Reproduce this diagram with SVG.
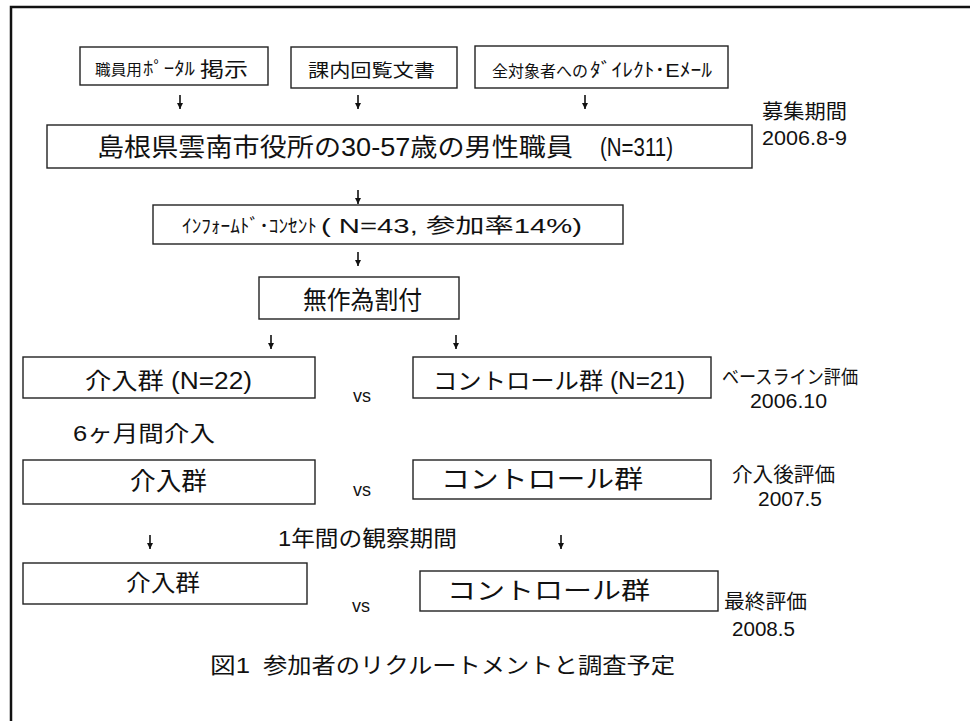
<svg xmlns="http://www.w3.org/2000/svg" width="970" height="721" viewBox="0 0 970 721">
<defs>
<marker id="ah" viewBox="0 0 6 6" refX="6" refY="3" markerWidth="6" markerHeight="6" markerUnits="userSpaceOnUse" orient="auto">
<path d="M0,0 L6,3 L0,6 Z" fill="#111"/>
</marker>
<style>
text{font-family:"Liberation Sans","Noto Sans CJK JP",sans-serif;fill:#111}
.box{fill:#fff;stroke:#222;stroke-width:1.4}
.arr{stroke:#111;stroke-width:1.6;fill:none;marker-end:url(#ah)}
.frame{stroke:#111;stroke-width:2.5;fill:none}
</style>
</defs>
<rect width="970" height="721" fill="#fff"/>
<path class="frame" d="M11,721 L11,7 L970,7"/>

<g id="connectors">
<line class="arr" x1="180" y1="95" x2="180" y2="109"/>
<line class="arr" x1="358" y1="95" x2="358" y2="109"/>
<line class="arr" x1="585" y1="95" x2="585" y2="109"/>
<line class="arr" x1="358" y1="190" x2="358" y2="204"/>
<line class="arr" x1="358" y1="252" x2="358" y2="266"/>
<line class="arr" x1="271" y1="335" x2="271" y2="349"/>
<line class="arr" x1="456" y1="335" x2="456" y2="349"/>
<line class="arr" x1="150" y1="535" x2="150" y2="549"/>
<line class="arr" x1="561" y1="535" x2="561" y2="549"/>
</g>

<g id="portal">
<rect class="box" x="80" y="47" width="188" height="38"/>
<text x="95" y="75" font-size="15" textLength="47" lengthAdjust="spacingAndGlyphs">職員用</text>
<text x="143" y="75" font-size="18" textLength="52" lengthAdjust="spacingAndGlyphs">ﾎﾟｰﾀﾙ</text>
<text x="200" y="77" font-size="20" textLength="48" lengthAdjust="spacingAndGlyphs">掲示</text>
</g>
<g id="circular">
<rect class="box" x="291" y="47" width="166" height="41"/>
<text x="308" y="77" font-size="18" textLength="127" lengthAdjust="spacingAndGlyphs">課内回覧文書</text>
</g>
<g id="email">
<rect class="box" x="475" y="46" width="253" height="42"/>
<text x="492" y="77" font-size="16" textLength="96" lengthAdjust="spacingAndGlyphs">全対象者への</text>
<text x="590" y="77" font-size="19" textLength="122" lengthAdjust="spacingAndGlyphs">ﾀﾞｲﾚｸﾄ･Eﾒｰﾙ</text>
</g>

<g id="population">
<rect class="box" x="47" y="125" width="705" height="43"/>
<text x="97" y="156" font-size="25" textLength="476" lengthAdjust="spacingAndGlyphs">島根県雲南市役所の30-57歳の男性職員</text>
<text x="600" y="156" font-size="25" textLength="73" lengthAdjust="spacingAndGlyphs">(N=311)</text>
</g>
<g id="recruit-period">
<text x="762" y="119" font-size="20" textLength="85" lengthAdjust="spacingAndGlyphs">募集期間</text>
<text x="762" y="145" font-size="21" textLength="85" lengthAdjust="spacingAndGlyphs">2006.8-9</text>
</g>

<g id="consent">
<rect class="box" x="153" y="205" width="470" height="39"/>
<text x="182" y="233" font-size="19" textLength="135" lengthAdjust="spacingAndGlyphs">ｲﾝﾌｫｰﾑﾄﾞ･ｺﾝｾﾝﾄ</text>
<text x="321" y="233" font-size="20" textLength="261" lengthAdjust="spacingAndGlyphs">( N=43, 参加率14%)</text>
</g>

<g id="randomization">
<rect class="box" x="259" y="277" width="200" height="42"/>
<text x="303" y="309" font-size="25" textLength="119" lengthAdjust="spacingAndGlyphs">無作為割付</text>
</g>

<g id="intervention-baseline">
<rect class="box" x="23" y="357" width="292" height="41"/>
<text x="85" y="389" font-size="23" textLength="167" lengthAdjust="spacingAndGlyphs">介入群 (N=22)</text>
</g>
<text x="353" y="402" font-size="18">vs</text>
<g id="control-baseline">
<rect class="box" x="413" y="357" width="298" height="41"/>
<text x="433" y="389" font-size="23" textLength="252" lengthAdjust="spacingAndGlyphs">コントロール群 (N=21)</text>
</g>
<g id="baseline-eval">
<text x="722" y="384" font-size="19" textLength="136" lengthAdjust="spacingAndGlyphs">ベースライン評価</text>
<text x="750" y="408" font-size="20" textLength="77" lengthAdjust="spacingAndGlyphs">2006.10</text>
</g>

<text x="73" y="441" font-size="22" textLength="142" lengthAdjust="spacingAndGlyphs">6ヶ月間介入</text>

<g id="intervention-post">
<rect class="box" x="23" y="460" width="292" height="44"/>
<text x="130" y="490" font-size="25" textLength="77" lengthAdjust="spacingAndGlyphs">介入群</text>
</g>
<text x="353" y="496" font-size="18">vs</text>
<g id="control-post">
<rect class="box" x="413" y="460" width="298" height="39"/>
<text x="441" y="488" font-size="25" textLength="202" lengthAdjust="spacingAndGlyphs">コントロール群</text>
</g>
<g id="post-eval">
<text x="732" y="482" font-size="20" textLength="103" lengthAdjust="spacingAndGlyphs">介入後評価</text>
<text x="758" y="506" font-size="20" textLength="64" lengthAdjust="spacingAndGlyphs">2007.5</text>
</g>

<text x="278" y="546" font-size="22" textLength="179" lengthAdjust="spacingAndGlyphs">1年間の観察期間</text>

<g id="intervention-final">
<rect class="box" x="23" y="563" width="284" height="41"/>
<text x="126" y="591" font-size="23" textLength="74" lengthAdjust="spacingAndGlyphs">介入群</text>
</g>
<text x="352" y="612" font-size="18">vs</text>
<g id="control-final">
<rect class="box" x="420" y="571" width="298" height="40"/>
<text x="447" y="599" font-size="24" textLength="203" lengthAdjust="spacingAndGlyphs">コントロール群</text>
</g>
<g id="final-eval">
<text x="724" y="609" font-size="20" textLength="83" lengthAdjust="spacingAndGlyphs">最終評価</text>
<text x="732" y="636" font-size="20" textLength="63" lengthAdjust="spacingAndGlyphs">2008.5</text>
</g>

<text x="210" y="673" font-size="22" textLength="40" lengthAdjust="spacingAndGlyphs">図1</text>
<text x="263" y="673" font-size="22" textLength="412" lengthAdjust="spacingAndGlyphs">参加者のリクルートメントと調査予定</text>
</svg>
